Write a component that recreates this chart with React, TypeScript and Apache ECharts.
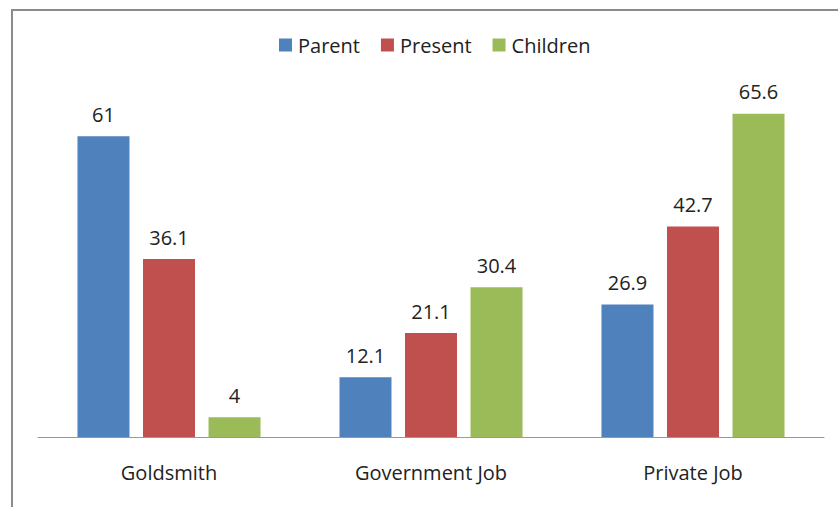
import React, { useEffect, useRef } from "react";
import * as echarts from "echarts";

const categories = ["Goldsmith", "Government Job", "Private Job"];
const parentValues = [61, 12.1, 26.9];
const presentValues = [36.1, 21.1, 42.7];
const childrenValues = [4, 30.4, 65.6];
const seriesNames = ["Parent", "Present", "Children"];

const FONT = "'Open Sans', sans-serif";

export default function App() {
  const ref = useRef<HTMLDivElement>(null);
  useEffect(() => {
    if (!ref.current) return;
    const chart = echarts.init(ref.current, undefined, { renderer: "svg" });
    const label = {
      show: true,
      position: "top" as const,
      distance: 12,
      color: "#222",
      fontSize: 20,
      fontFamily: FONT,
    };
    const mk = (name: string, data: number[], color: string) => ({
      name,
      type: "bar" as const,
      data,
      barWidth: 52,
      barGap: "26%",
      itemStyle: { color },
      label,
    });
    chart.setOption({
      animation: false,
      backgroundColor: "#fff",
      graphic: [
        {
          type: "rect",
          shape: { x: 12, y: 10, width: 900, height: 600 },
          style: { fill: "none", stroke: "#8c8c8c", lineWidth: 2 },
          silent: true,
        },
      ],
      legend: {
        data: seriesNames,
        top: 30,
        left: 274,
        itemWidth: 13,
        itemHeight: 13,
        itemGap: 21,
        icon: "rect",
        textStyle: { fontFamily: FONT, fontSize: 20, color: "#222", padding: [0, 0, 0, 1] },
      },
      grid: { left: 38, right: 14, top: 92, bottom: 70, containLabel: false },
      xAxis: {
        type: "category",
        data: categories,
        axisLine: { show: true, lineStyle: { color: "#999", width: 1 } },
        axisTick: { show: false },
        axisLabel: { fontFamily: FONT, fontSize: 20, color: "#222", margin: 25 },
      },
      yAxis: {
        type: "value",
        min: 0,
        max: 70,
        show: false,
        splitLine: { show: false },
      },
      series: [
        mk(seriesNames[0], parentValues, "#4F81BD"),
        mk(seriesNames[1], presentValues, "#C0504D"),
        mk(seriesNames[2], childrenValues, "#9BBB59"),
      ],
    });
    return () => chart.dispose();
  }, []);
  return (
    <div
      ref={ref}
      style={{ position: "absolute", left: 0, top: 0, width: 838, height: 507 }}
    />
  );
}
